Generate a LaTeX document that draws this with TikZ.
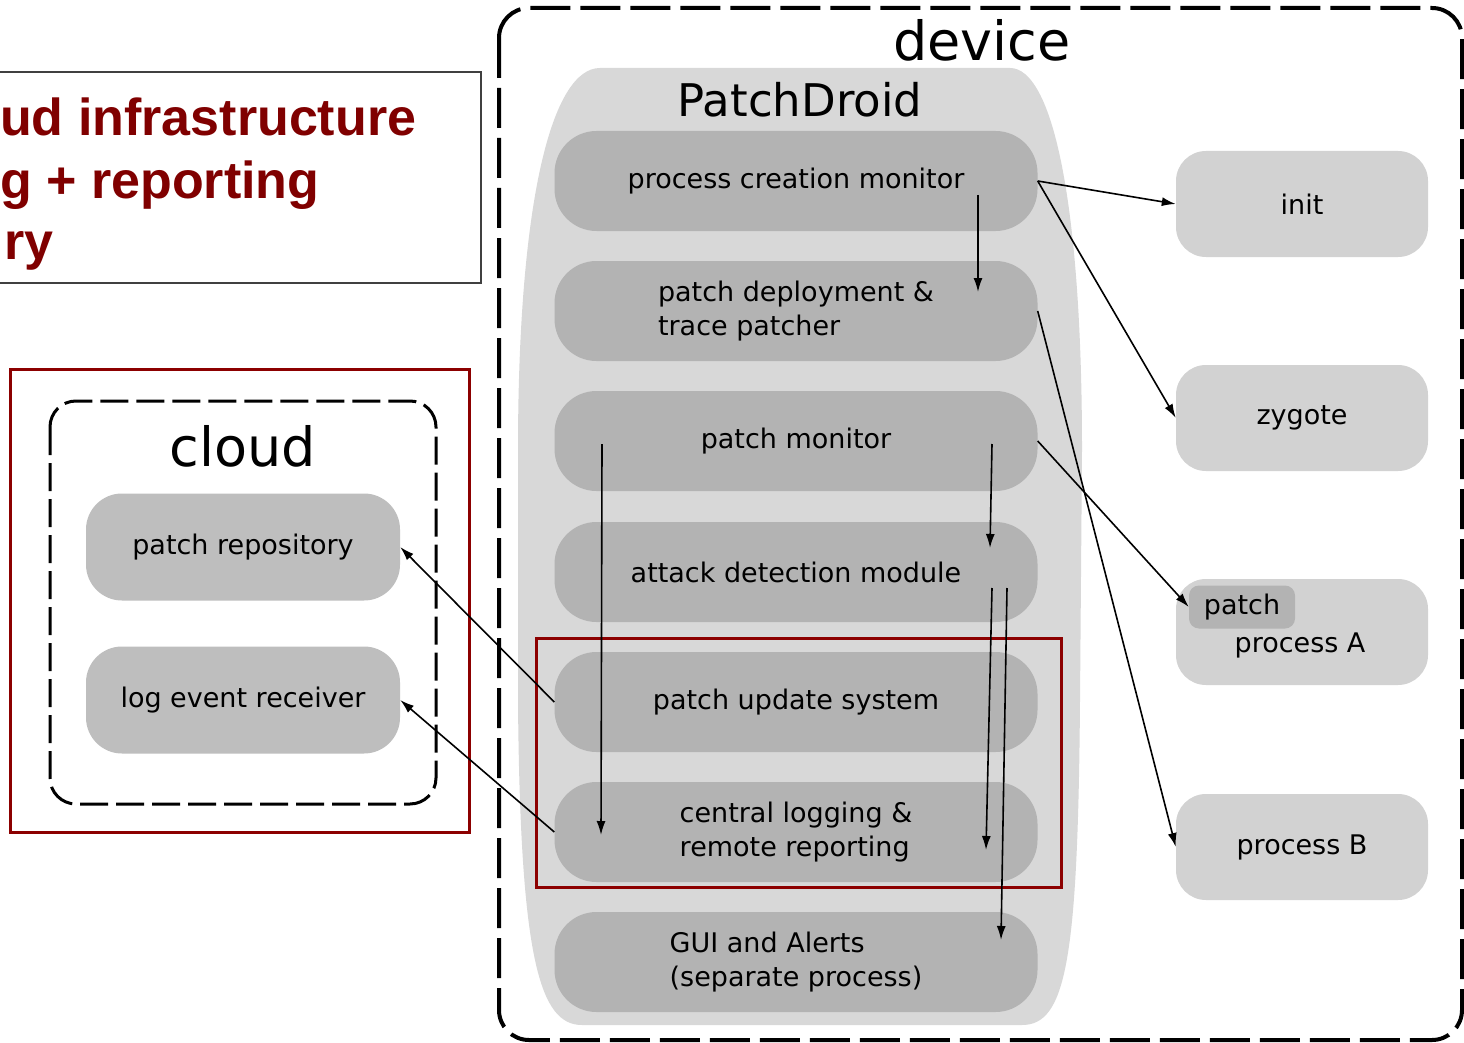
\documentclass[tikz,border=0pt]{standalone}
\usepackage{fontspec}
\setmainfont{DejaVu Sans}
\newfontfamily\slidefont{Liberation Sans}
\usetikzlibrary{arrows.meta}

\definecolor{slidered}{RGB}{128,0,0}
\definecolor{framered}{RGB}{140,0,0}
\definecolor{droidgray}{RGB}{216,216,216}
\definecolor{modgray}{RGB}{179,179,179}
\definecolor{cloudgray}{RGB}{190,190,190}
\definecolor{procgray}{RGB}{210,210,210}

\begin{document}
\begin{tikzpicture}[x=1pt, y=-1pt,
  module/.style = {rectangle, rounded corners=42pt, fill=modgray, minimum width=483pt, minimum height=100pt, inner sep=0pt, align=left, font=\fontsize{27}{34}\selectfont},
  service/.style = {rectangle, rounded corners=36pt, fill=cloudgray, minimum width=314pt, minimum height=107pt, inner sep=0pt, font=\fontsize{27}{34}\selectfont},
  proc/.style = {rectangle, rounded corners=30pt, fill=procgray, minimum width=252pt, minimum height=106pt, inner sep=0pt, font=\fontsize{27}{34}\selectfont},
  title/.style = {inner sep=0pt, font=\fontsize{54}{60}\selectfont},
  slideline/.style = {anchor=base west, inner sep=0pt, text=slidered, font=\fontsize{52}{60}\slidefont\bfseries},
  flow/.style = {line width=1.6pt, -{Latex[length=14pt,width=9pt]}},
  redframe/.style = {draw=framered, line width=3pt},
]
\useasboundingbox (0,0) rectangle (1464,1043);
\fill[white] (0,0) rectangle (1464,1043);

% Slide text box, cut at the left border
\begin{scope}
\clip (0,0) rectangle (1464,1043);
\draw[line width=1.2pt, draw=black!75] (-10,72) rectangle (481,283);
\end{scope}
\node[slideline] (line1) at (0,136) {ud infrastructure};
\node[slideline] (line2) at (0,199) {g + reporting};
\node[slideline] (line3) at (4,259) {ry};

% Cloud
\draw[redframe] (10,369) rectangle (469,832);
\draw[line width=3pt, dash pattern=on 28pt off 8pt, rounded corners=26pt] (50,401) rectangle (436,804);
\node[title] (cloud) at (243,446) {cloud};
\node[service] (repo) at (243,547) {patch repository};
\node[service] (logrx) at (243,700) {log event receiver};

% Device
\draw[line width=4pt, dash pattern=on 40pt off 10pt, rounded corners=30pt] (499,8) rectangle (1462,1040);
\node[title] (device) at (982,40) {device};

% PatchDroid
\fill[droidgray] (600,68) -- (1010,68) .. controls (1052,68) and (1082,200) .. (1082,450) -- (1080,700)
  .. controls (1078,960) and (1066,1025) .. (1022,1025) -- (582,1025)
  .. controls (540,1025) and (520,960) .. (518,700) -- (518,450)
  .. controls (518,200) and (552,68) .. (600,68) -- cycle;
\node[inner sep=0pt, font=\fontsize{45}{50}\selectfont] (droid) at (800,100) {PatchDroid};
\node[module] (pcm) at (796,181) {process creation monitor};
\node[module] (pds) at (796,311) {patch deployment \&\\trace patcher};
\node[module] (pmon) at (796,441) {patch monitor};
\node[module] (adm) at (796,572) {attack detection module};
\node[module] (pus) at (796,702) {patch update system};
\node[module] (clr) at (796,832) {central logging \&\\remote reporting};
\node[module] (gui) at (796,962) {GUI and Alerts\\(separate process)};
\draw[redframe] (536,638) rectangle (1061,887);

% Processes
\node[proc] (init) at (1302,204) {init};
\node[proc] (zygote) at (1302,418) {zygote};
\node[proc] (procA) at (1302,632) {};
\node[inner sep=0pt, font=\fontsize{27}{34}\selectfont] (procAtext) at (1300,645) {process A};
\node[rectangle, rounded corners=10pt, fill=modgray, minimum width=106pt, minimum height=43pt, inner sep=0pt, font=\fontsize{27}{34}\selectfont] (patchA) at (1242,607) {patch};
\node[proc] (procB) at (1302,847) {process B};

% Arrows
\coordinate (pcm-s) at (978,195);
\coordinate (pds-n) at (978,292);
\coordinate (pmon-l) at (602,444);
\coordinate (clr-l) at (601,835);
\coordinate (pmon-r) at (992,444);
\coordinate (adm-r) at (990,548);
\coordinate (adm-a) at (992,588);
\coordinate (clr-r) at (986,850);
\coordinate (adm-b) at (1007,588);
\coordinate (gui-r) at (1001,940);
\draw[flow] (pcm.east) -- (init.west);
\draw[flow] (pcm.east) -- (zygote.west);
\draw[flow] (pcm-s) -- (pds-n);
\draw[flow] (pds.east) -- (procB.west);
\draw[flow] (pmon.east) -- (patchA.west);
\draw[flow] (pmon-r) -- (adm-r);
\draw[flow] (pmon-l) -- (clr-l);
\draw[flow] (adm-a) -- (clr-r);
\draw[flow] (adm-b) -- (gui-r);
\draw[flow] (pus.west) -- (repo.east);
\draw[flow] (clr.west) -- (logrx.east);
\end{tikzpicture}
\end{document}
